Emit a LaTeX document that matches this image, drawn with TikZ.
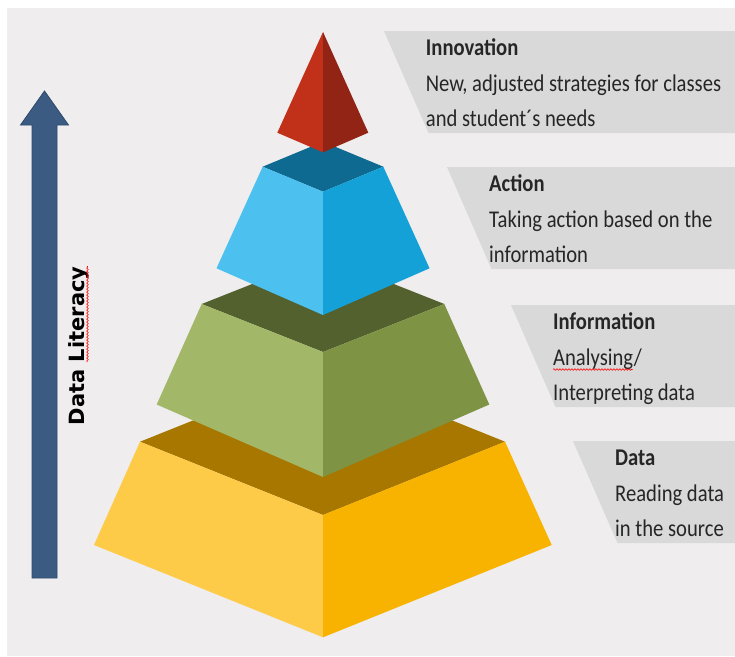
\documentclass[tikz,border=0pt]{standalone}
\usepackage{fontspec}
\newfontfamily\lblfont{Carlito}[FakeStretch=0.86]
\newfontfamily\arrfont{DejaVu Sans}
\usetikzlibrary{decorations.pathmorphing}
\definecolor{bgc}{HTML}{EFEDEE}
\definecolor{boxc}{HTML}{D9D9D9}
\definecolor{arrc}{HTML}{3B5B82}
\definecolor{arrd}{HTML}{2E4A6C}
\definecolor{txtc}{HTML}{262626}
\definecolor{redL}{HTML}{C1311A}
\definecolor{redR}{HTML}{912414}
\definecolor{bluT}{HTML}{0E6A90}
\definecolor{bluL}{HTML}{4CC0EF}
\definecolor{bluR}{HTML}{13A1D8}
\definecolor{grnT}{HTML}{53612E}
\definecolor{grnL}{HTML}{A2B868}
\definecolor{grnR}{HTML}{7E9444}
\definecolor{orgT}{HTML}{A77700}
\definecolor{orgL}{HTML}{FECB48}
\definecolor{orgR}{HTML}{F8B200}
\tikzset{
  lblbox/.style={fill=boxc},
  lbltext/.style={anchor=base west, inner sep=0, text=txtc, font=\lblfont\fontsize{24}{35}\selectfont},
  lblhead/.style={lbltext, font=\lblfont\bfseries\fontsize{24}{35}\selectfont},
  spell/.style={draw=red, line width=0.6pt, decorate, decoration={snake, amplitude=0.8pt, segment length=3pt}}
}
\begin{document}
\begin{tikzpicture}[x=1pt,y=-1pt]
\useasboundingbox (0,0) rectangle (735,656);
\fill[white] (0,0) rectangle (735,656);
\fill[bgc] (7,8) rectangle (735,656);

% label boxes
\fill[lblbox] (384,31) -- (735,31) -- (735,133) -- (428.5,133) -- cycle;
\fill[lblbox] (447,167) -- (735,167) -- (735,269) -- (491.5,269) -- cycle;
\fill[lblbox] (511,305) -- (735,305) -- (735,407) -- (555.5,407) -- cycle;
\fill[lblbox] (573,441) -- (735,441) -- (735,543) -- (617.5,543) -- cycle;

% label texts
\node[lblhead] (innoh) at (425.7,55.5) {Innovation};
\node[lbltext] (inno1) at (425.7,91) {New, adjusted strategies for classes};
\node[lbltext] (inno2) at (425.7,126) {and student´s needs};

\node[lblhead] (acth) at (489,191.5) {Action};
\node[lbltext] (act1) at (489,227) {Taking action based on the};
\node[lbltext] (act2) at (489,262) {information};

\node[lblhead] (infh) at (553,329.5) {Information};
\node[lbltext] (inf1) at (553,365) {Analysing/};
\node[lbltext] (inf2) at (553,400) {Interpreting data};
\draw[spell] (553,369.5) -- (632.5,369.5);

\node[lblhead] (dath) at (615,465.5) {Data};
\node[lbltext] (dat1) at (615,501) {Reading data};
\node[lbltext] (dat2) at (615,536) {in the source};

% arrow
\filldraw[fill=arrc, draw=arrd, line width=0.8pt]
  (32,578) -- (32,125) -- (20.5,125) -- (44.5,91) -- (68.5,125) -- (57,125) -- (57,578) -- cycle;
\node[rotate=90, anchor=base, inner sep=0, text=black,
  font=\arrfont\bfseries\fontsize{21}{24}\selectfont] (lit) at (84.5,346) {Data Literacy};
\draw[spell] (87.5,362) -- (87.5,266);

% orange layer
\fill[orgT] (140,441.7) -- (323,368.4) -- (505,441.7) -- (323,515) -- cycle;
\fill[orgL] (140,441.7) -- (323,515) -- (323,637.3) -- (94,545) -- cycle;
\fill[orgR] (505,441.7) -- (323,515) -- (323,637.3) -- (551.7,545) -- cycle;

% green layer
\fill[grnT] (201.7,304) -- (323,256) -- (444.3,304) -- (323,352) -- cycle;
\fill[grnL] (201.7,304) -- (323,352) -- (323,477) -- (156.7,404.5) -- cycle;
\fill[grnR] (444.3,304) -- (323,352) -- (323,477) -- (489.3,404.5) -- cycle;

% blue layer
\fill[bluT] (262.7,166.7) -- (323,141.7) -- (383.3,166.7) -- (323,191.7) -- cycle;
\fill[bluL] (262.7,166.7) -- (323,191.7) -- (323,315) -- (216.5,268.3) -- cycle;
\fill[bluR] (383.3,166.7) -- (323,191.7) -- (323,315) -- (429.5,268.3) -- cycle;

% red tip
\fill[redL] (323,32) -- (323,152.3) -- (277.3,132.7) -- cycle;
\fill[redR] (323,32) -- (323,152.3) -- (368.3,132.7) -- cycle;
\end{tikzpicture}
\end{document}
